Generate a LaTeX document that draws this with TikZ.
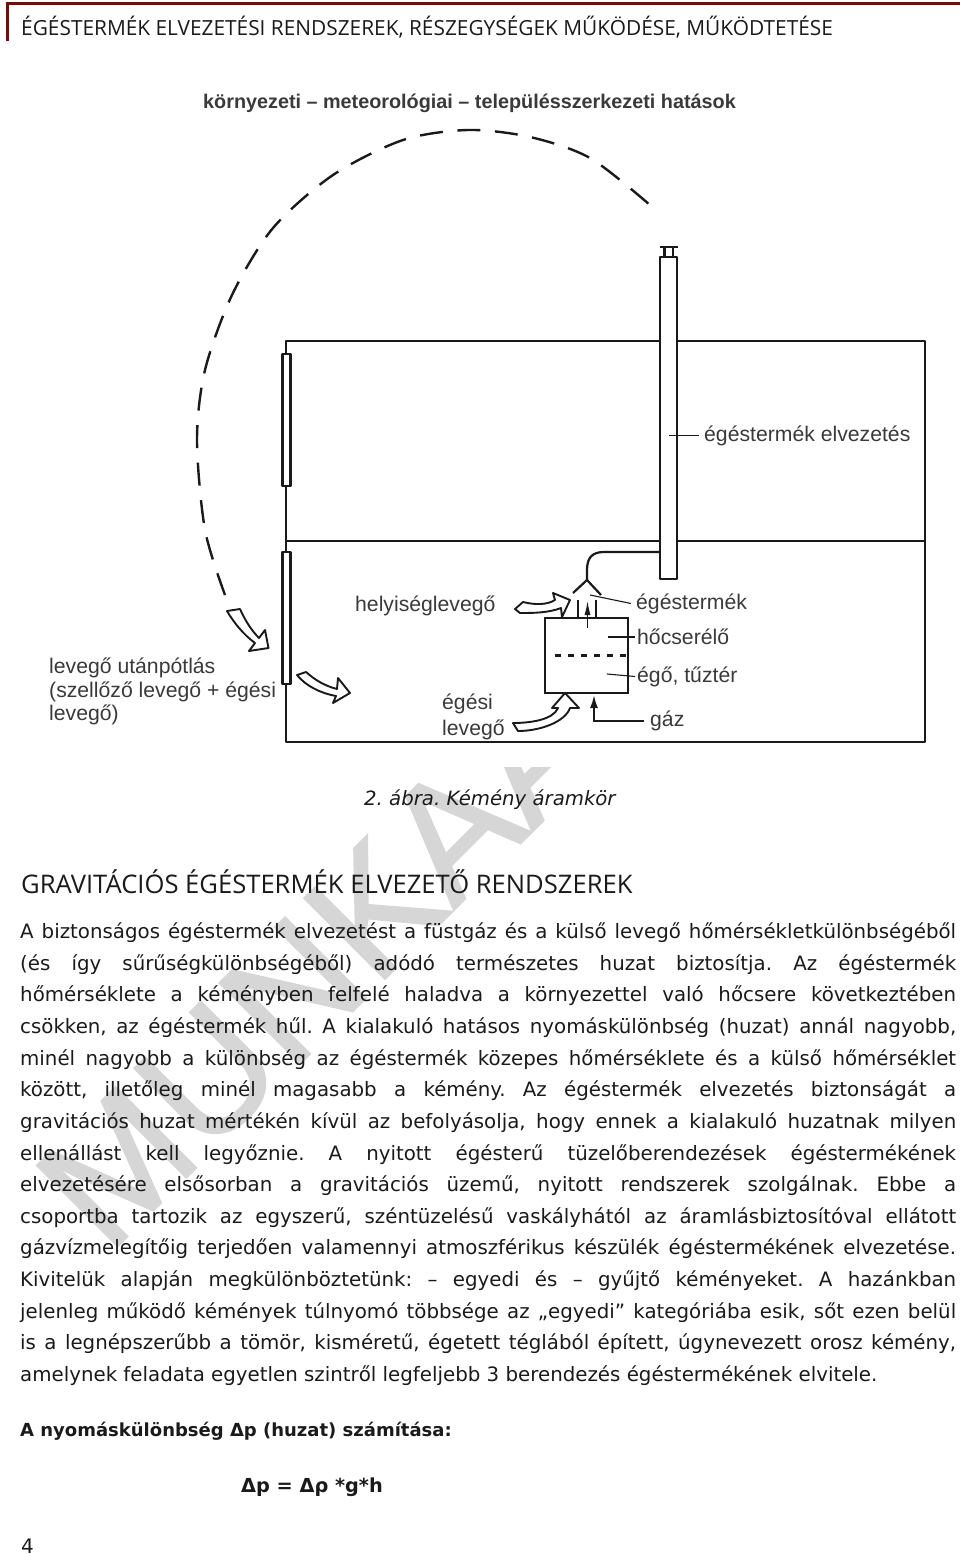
\documentclass[tikz,border=0pt]{standalone}
\usepackage{fontspec}
\setmainfont{DejaVu Sans}
\newfontfamily\labelfont{Liberation Sans}
\newfontfamily\headfont{Open Sans}
\newfontfamily\stampfont[FakeBold=1.2]{Liberation Sans}
\usetikzlibrary{positioning, arrows.meta}
\definecolor{ink}{HTML}{1a1a1a}
\definecolor{label}{HTML}{3a3a3a}
\definecolor{rule}{HTML}{6b1010}
\definecolor{stamp}{HTML}{d6d6d6}

\begin{document}
\frenchspacing
\begin{tikzpicture}[x=1pt, y=-1pt,
  wall/.style={draw=ink, line width=2.2pt, line join=round},
  thin/.style={draw=ink, line width=1.1pt},
  flow/.style={draw=ink, line width=1.9pt, fill=white, line join=round},
  tag/.style={font=\labelfont\fontsize{21.2}{24}\selectfont, text=label, inner sep=0pt, anchor=west, yshift=-1.5pt},
  body/.style={inner sep=0pt, anchor=west, text=ink}
]
  \useasboundingbox (0,0) rectangle (960,1554);

  % watermark, cut off by the figure
  \node[rotate=45, anchor=base west, font=\stampfont\fontsize{166}{166}\selectfont, text=stamp, inner sep=0pt] (stamp) at (108,1256) {MUNKAA};
  \fill[white] (0,0) rectangle (960,767);

  % page head
  \draw[rule, line width=3pt] (7,41) -- (7,3.5) -- (960,3.5);
  \node[body, font=\headfont\fontsize{20.85}{24}\selectfont] (head) at (21,27) {ÉGÉSTERMÉK ELVEZETÉSI RENDSZEREK, RÉSZEGYSÉGEK MŰKÖDÉSE, MŰKÖDTETÉSE};

  % house
  \draw[wall] (286,541) -- (286,341) -- (660,341) (677,341) -- (925,341) -- (925,742) -- (286,742) -- (286,541) -- (660,541) (677,541) -- (925,541);
  \foreach \a/\b in {354/486, 552/684} {
    \draw[wall, fill=white] (282.5,\a) rectangle (290.5,\b);
  }

  % chimney
  \draw[wall] (660,257) rectangle (677,579);
  \draw[wall] (660,247) -- (678,247) (664.5,247) -- (664.5,257) (673,247) -- (673,257);

  % boiler
  \node[draw=ink, line width=2.2pt, minimum width=83pt, minimum height=75pt, inner sep=0pt] (boiler) at (586.5,655.5) {};
  \draw[ink, line width=2.4pt, dash pattern=on 6pt off 7pt] (boiler.west) ++(11,0) -- (boiler.east);
  \coordinate (fluein) at (659,552);
  \draw[wall] (fluein) -- (604,552) .. controls (592,552) and (587,558) .. (587,570) -- (587,580);
  \draw[wall] (573,593) -- (587,580) -- (601,595);
  \foreach \x in {578,596} {
    \draw[wall] (\x,600) -- (\x,618);
  }
  \coordinate (riser) at (587.5,628);
  \draw[ink, line width=1.8pt, -{Latex[length=15pt, width=6pt]}] (riser) -- (587.5,600);

  % gas feed
  \node[tag] (gas) at (650,719.5) {gáz};
  \draw[ink, line width=2pt, -{Latex[length=13pt, width=8pt]}] (gas.west) ++(-6,0) -- (594,721) -- (594,695);

  % labels with leaders
  \node[tag] (title) at (203,102) {\bfseries\fontsize{19.8}{24}\selectfont környezeti – meteorológiai – településszerkezeti hatások};
  \node[tag] (flue) at (704,434) {égéstermék elvezetés};
  \node[tag] (gases) at (636,602) {égéstermék};
  \node[tag] (heater) at (637,635.5) {hőcserélő};
  \node[tag] (burner) at (637,675) {égő, tűztér};
  \node[tag] (room) at (355,604) {helyiséglevegő};
  \node[tag] (combair) at (442,702) {égési};
  \node[tag, below=6pt of combair.south west, anchor=north west, yshift=1.5pt] (combair2) {levegő};
  \node[tag, align=left, font=\labelfont\fontsize{21.2}{23.6}\selectfont] (supply) at (49,690) {levegő utánpótlás\\(szellőző levegő + égési\\levegő)};
  \coordinate (leadflue) at (669,435.5);
  \coordinate (leadgases) at (590,595);
  \coordinate (leadheater) at (608,637);
  \coordinate (leadburner) at (607,674);
  \draw[thin] (leadflue) -- ([xshift=-5pt]flue.west);
  \draw[thin] (leadgases) -- ([xshift=-5pt]gases.west);
  \draw[thin] (leadheater) -- ([xshift=-2pt]heater.west);
  \draw[thin] (leadburner) -- ([xshift=-2pt]burner.west);

  % outside air
  \draw[ink, line width=2.4pt, dash pattern=on 23pt off 14.6pt] plot[smooth] coordinates {(225,595) (205,530) (197,440) (205,370) (232,295) (273,228) (333,175) (403,140) (468,130) (530,137) (590,158) (650,205)};

  % hollow arrows
  \draw[flow] (227,611) -- (240,609) .. controls (245,620) and (251,630) .. (259,638) -- (265,630) -- (268.5,648) -- (249,651) -- (255,643) .. controls (244,635) and (234,623) .. cycle;
  \draw[flow] (297,675) -- (306,672) .. controls (315,680) and (325,686) .. (337,689) -- (338,678) -- (350,693) -- (333,703) -- (336,696) .. controls (320,693) and (306,686) .. cycle;
  \draw[flow] (515,609) -- (523,602) .. controls (535,605) and (547,605) .. (555,600) -- (553,593) -- (570,600) -- (562,617) -- (561,608) .. controls (548,613) and (533,613) .. (520,613) -- cycle;
  \draw[flow] (513,723) .. controls (530,723) and (553,720) .. (558,708) -- (552,708) -- (565,693) -- (579,708) -- (570,708) .. controls (565,722) and (540,731) .. (518,731) -- cycle;

  % text
  \node[body, font=\itshape\fontsize{19.7}{22}\selectfont] (caption) at (364,799.5) {2. ábra. Kémény áramkör};
  \node[body, font=\headfont\fontsize{25.6}{28}\selectfont] (section) at (21,882) {GRAVITÁCIÓS ÉGÉSTERMÉK ELVEZETŐ RENDSZEREK};
  \node[inner sep=0pt, anchor=north west, text width=936pt, align=justify, text=ink, font=\fontsize{19.8}{31.64}\selectfont] (para) at (20,922.5) {%
A biztonságos égéstermék elvezetést a füstgáz és a külső levegő hőmérsékletkülönbségéből\linebreak
(és így sűrűségkülönbségéből) adódó természetes huzat biztosítja. Az égéstermék\linebreak
hőmérséklete a kéményben felfelé haladva a környezettel való hőcsere következtében\linebreak
csökken, az égéstermék hűl. A kialakuló hatásos nyomáskülönbség (huzat) annál nagyobb,\linebreak
minél nagyobb a különbség az égéstermék közepes hőmérséklete és a külső hőmérséklet\linebreak
között, illetőleg minél magasabb a kémény. Az égéstermék elvezetés biztonságát a\linebreak
gravitációs huzat mértékén kívül az befolyásolja, hogy ennek a kialakuló huzatnak milyen\linebreak
ellenállást kell legyőznie. A nyitott égésterű tüzelőberendezések égéstermékének\linebreak
elvezetésére elsősorban a gravitációs üzemű, nyitott rendszerek szolgálnak. Ebbe a\linebreak
csoportba tartozik az egyszerű, széntüzelésű vaskályhától az áramlásbiztosítóval ellátott\linebreak
gázvízmelegítőig terjedően valamennyi atmoszférikus készülék égéstermékének elvezetése.\linebreak
Kivitelük alapján megkülönböztetünk: – egyedi és – gyűjtő kéményeket. A hazánkban\linebreak
jelenleg működő kémények túlnyomó többsége az „egyedi” kategóriába esik, sőt ezen belül\linebreak
is a legnépszerűbb a tömör, kisméretű, égetett téglából épített, úgynevezett orosz kémény,\linebreak
amelynek feladata egyetlen szintről legfeljebb 3 berendezés égéstermékének elvitele.};
  \node[body, font=\bfseries\fontsize{18}{22}\selectfont] (calc) at (20,1431) {A nyomáskülönbség Δp (huzat) számítása:};
  \node[body, font=\bfseries\fontsize{19.3}{22}\selectfont] (formula) at (241,1487) {Δp = Δρ *g*h};
  \node[body, font=\fontsize{20}{24}\selectfont] (pageno) at (21,1546) {4};
\end{tikzpicture}
\end{document}
